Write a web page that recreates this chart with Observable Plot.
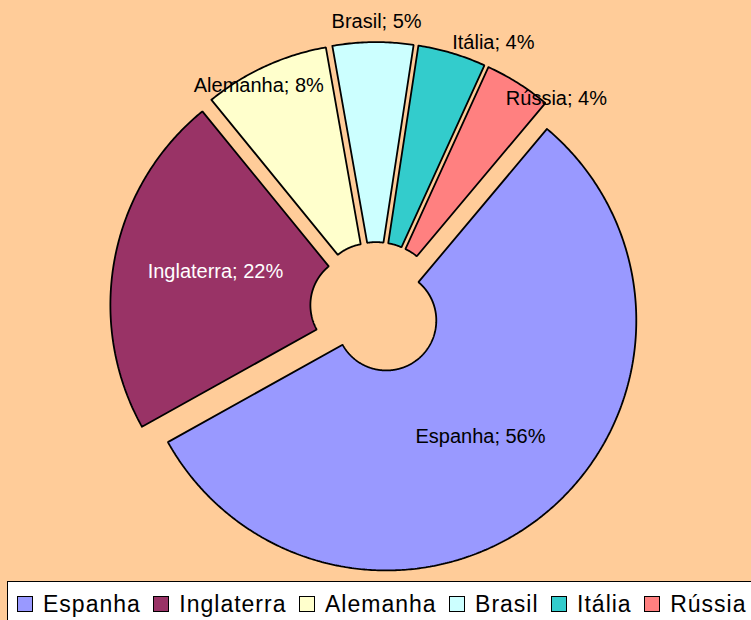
<!DOCTYPE html>
<html><head><meta charset="utf-8">
<script src="https://cdn.jsdelivr.net/npm/d3@7"></script>
<script src="https://cdn.jsdelivr.net/npm/@observablehq/plot@0.6"></script>
<style>
html,body{margin:0;padding:0;background:#ffcc99;width:751px;height:620px;overflow:hidden;font-family:"Liberation Sans",Arial,sans-serif}
#chart{position:absolute;left:0;top:0}
#legend{position:absolute;left:7px;top:581px;width:790px;height:60px;background:#fff;border:1px solid #000;box-sizing:border-box;display:flex;align-items:flex-start;padding-left:9px;padding-top:14px;white-space:nowrap}
.item{display:flex;align-items:center;margin-right:12.5px}
.sw{width:16px;height:16px;box-sizing:border-box;border:1.5px solid #000;margin-right:10px;flex:none}
.lab{font-size:23px;letter-spacing:1px;line-height:16px;color:#000}
</style></head>
<body>
<div id="chart"></div>
<div id="legend"></div>
<script>
const categories = ["Espanha", "Inglaterra", "Alemanha", "Brasil", "Itália", "Rússia"];
const values = [55.8, 22.2, 8.1, 5.2, 4.4, 4.3];
const colors = ["#9999ff", "#993366", "#ffffcc", "#ccffff", "#33cccc", "#ff8080"];
const labelColors = ["#000000", "#ffffff", "#000000", "#000000", "#000000", "#000000"];
// label placement: angle (deg, clockwise from 12 o'clock) and distance (in radii)
const labelAngle = [140.9, 282.8, 332.2, 0.1, 23.8, 40.7];
const labelDist = [0.662, 0.659, 1.006, 1.146, 1.162, 1.106];

const W = 751, H = 580, cx = 375.6, cy = 307.6, Rpx = 250;
const startAngle = 40, explode = 0.064, inner = 0.2;
const total = d3.sum(values);
const rad = Math.PI / 180;
let acc = 0;
const slices = categories.map((c, i) => {
  const a0 = (startAngle + acc / total * 360) * rad;
  acc += values[i];
  const a1 = (startAngle + acc / total * 360) * rad;
  return {c, i, a0, a1, mid: (a0 + a1) / 2};
});

const marks = [];
slices.forEach(s => {
  const ox = explode * Math.sin(s.mid), oy = explode * Math.cos(s.mid);
  const n = Math.max(10, Math.ceil((s.a1 - s.a0) / (0.5 * rad)));
  const ring = [];
  for (let k = 0; k <= n; k++) { const t = s.a0 + (s.a1 - s.a0) * k / n; ring.push({x: ox + Math.sin(t), y: oy + Math.cos(t)}); }
  for (let k = n; k >= 0; k--) { const t = s.a0 + (s.a1 - s.a0) * k / n; ring.push({x: ox + inner * Math.sin(t), y: oy + inner * Math.cos(t)}); }
  ring.push(ring[0]);
  marks.push(Plot.line(ring, {x: "x", y: "y", fill: colors[s.i], stroke: "#000", strokeWidth: 1.8, strokeLinejoin: "miter"}));
});

const labels = categories.map((c, i) => ({
  text: `${c}; ${Math.round(values[i])}%`,
  x: labelDist[i] * Math.sin(labelAngle[i] * rad),
  y: labelDist[i] * Math.cos(labelAngle[i] * rad),
  color: labelColors[i]
}));
marks.push(Plot.text(labels, {x: "x", y: "y", text: "text", fill: d => d.color, fontSize: 20, fontFamily: "Liberation Sans, Arial, sans-serif"}));

const chart = Plot.plot({
  width: W, height: H, margin: 0,
  x: {domain: [(0 - cx) / Rpx, (W - cx) / Rpx], axis: null},
  y: {domain: [(cy - H) / Rpx, cy / Rpx], axis: null},
  style: {background: "#ffcc99", fontFamily: "Liberation Sans, Arial, sans-serif", overflow: "visible"},
  marks
});
document.getElementById("chart").appendChild(chart);

const legend = document.getElementById("legend");
categories.forEach((c, i) => {
  const item = document.createElement("div"); item.className = "item";
  const sw = document.createElement("div"); sw.className = "sw"; sw.style.background = colors[i];
  const lab = document.createElement("span"); lab.className = "lab"; lab.textContent = c;
  item.appendChild(sw); item.appendChild(lab); legend.appendChild(item);
});
</script>
</body></html>
